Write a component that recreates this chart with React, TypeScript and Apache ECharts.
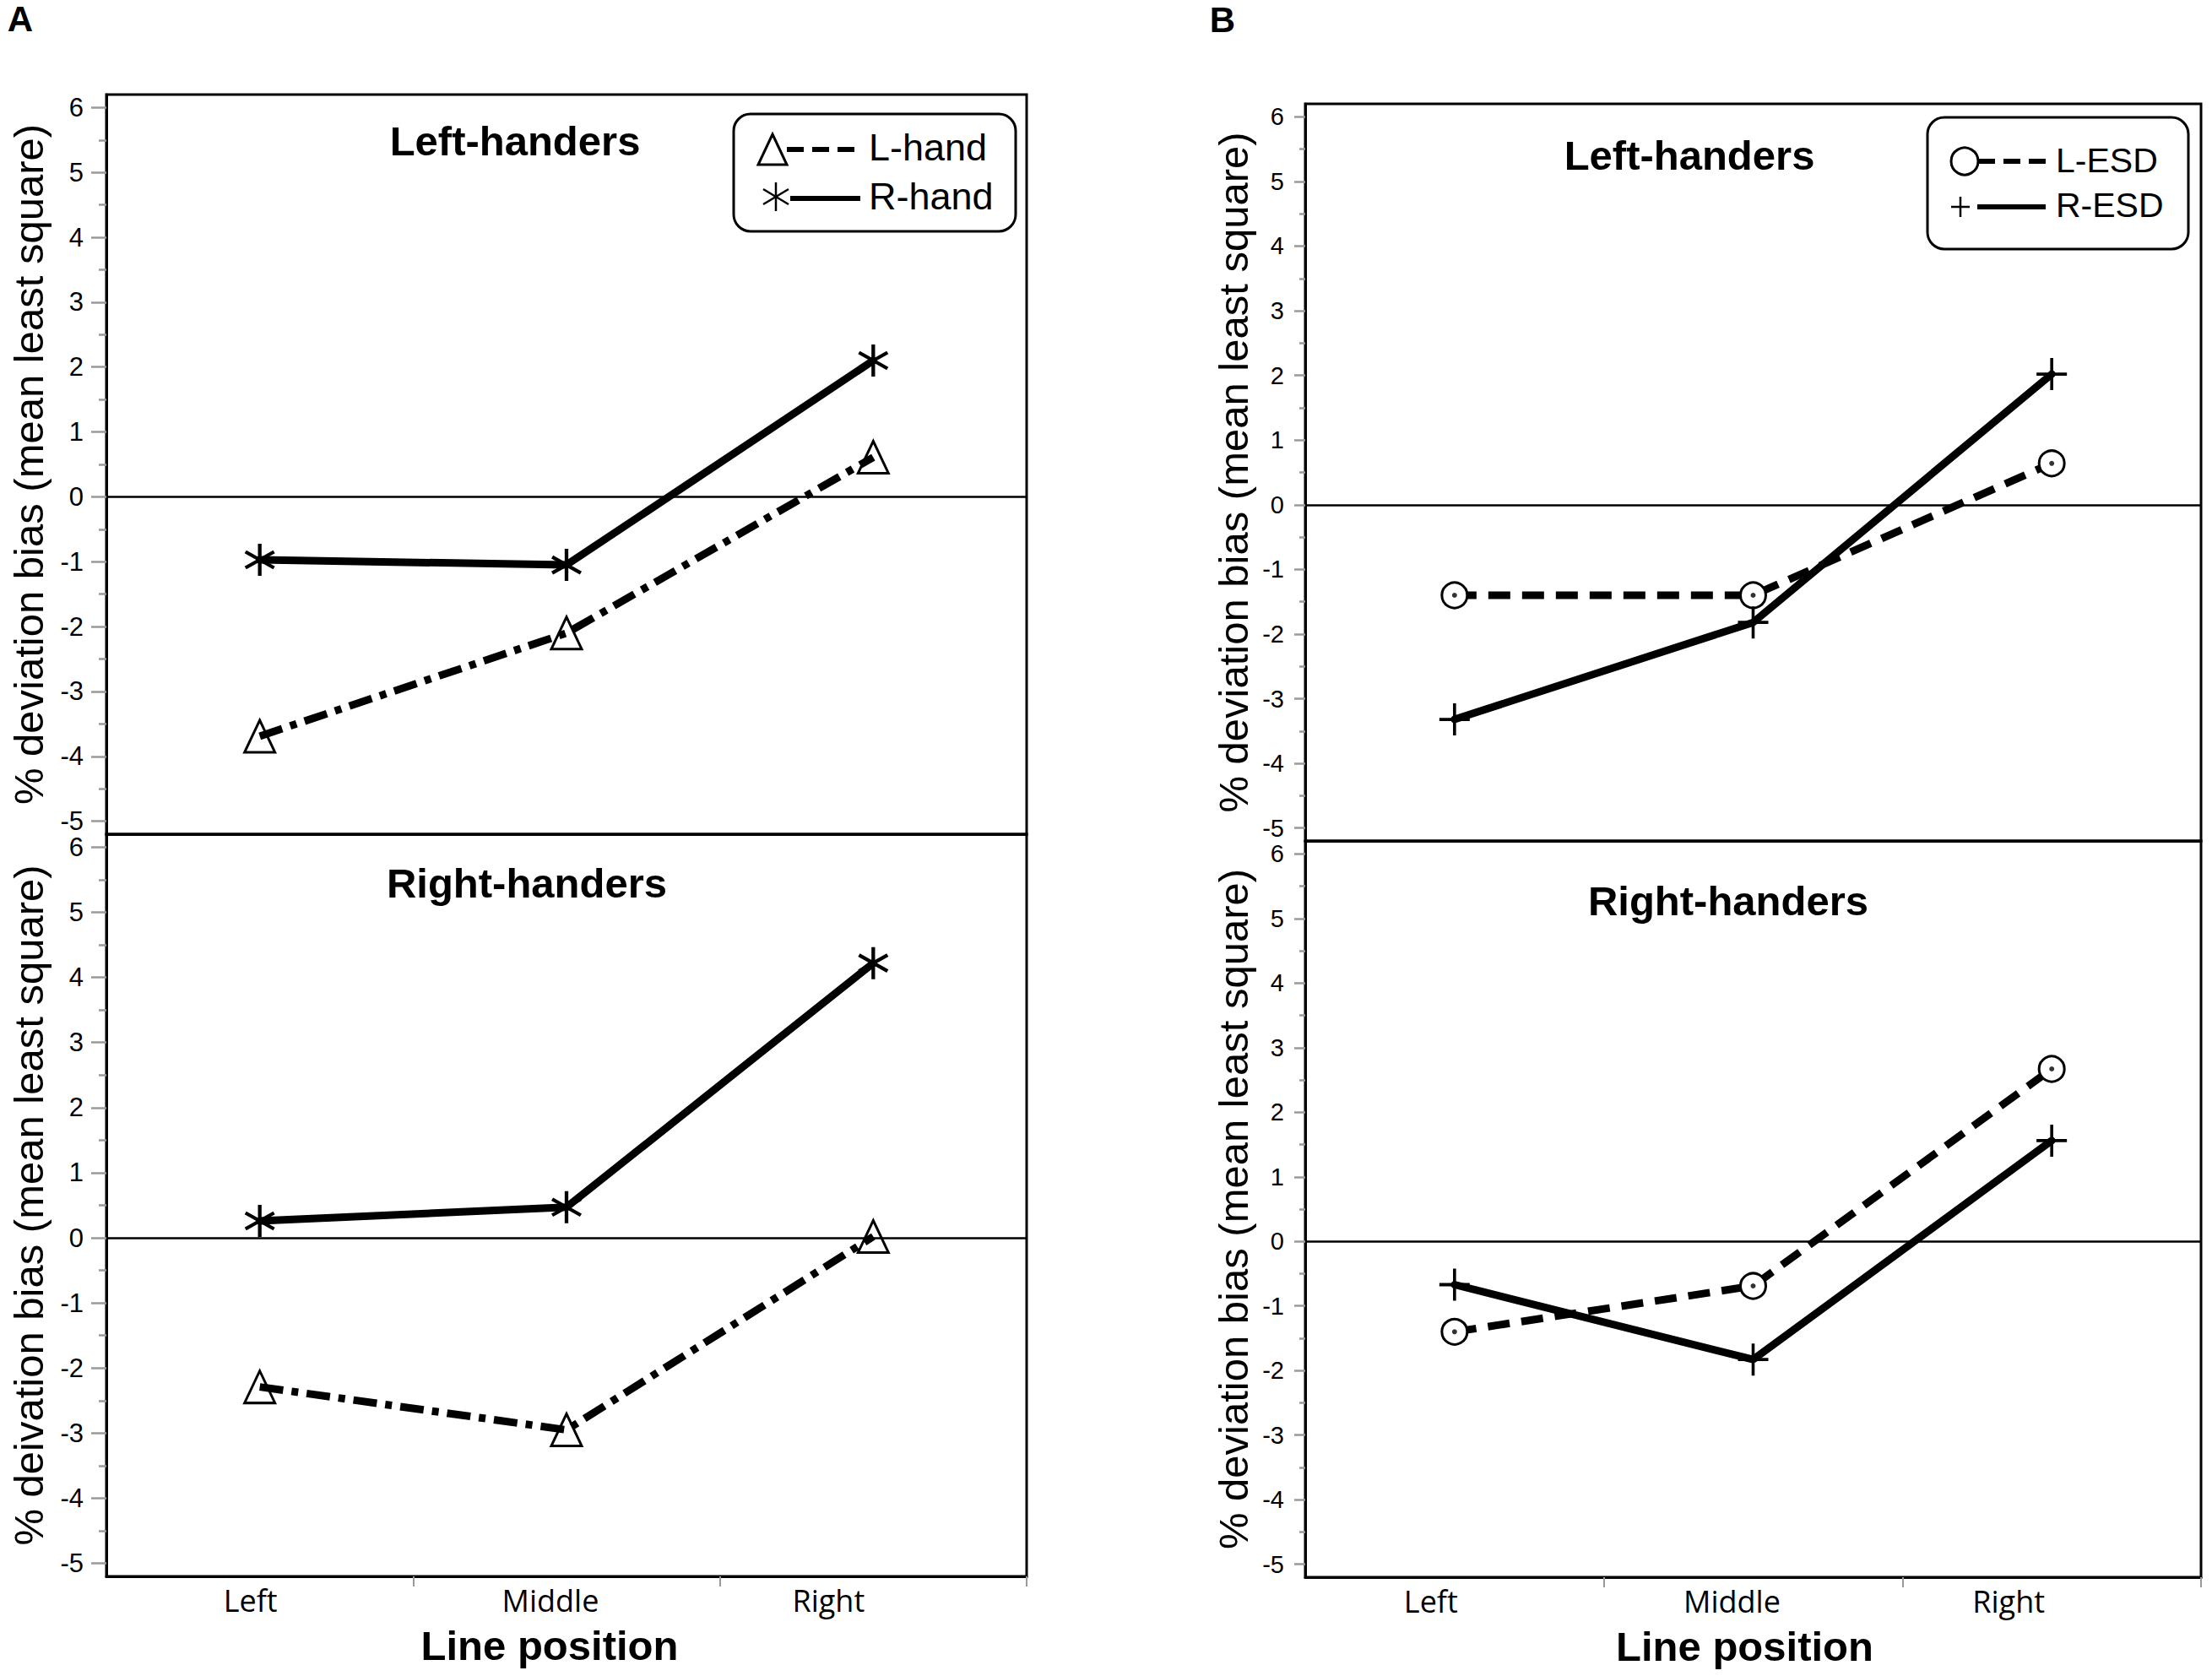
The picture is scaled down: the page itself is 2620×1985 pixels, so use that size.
import React, { useEffect, useRef } from "react";
import * as echarts from "echarts";

const CATEGORIES = ["Left", "Middle", "Right"];
const Y_MIN = -5.2;
const Y_MAX = 6.2;
const Y_MAJOR_TICKS = [-5, -4, -3, -2, -1, 0, 1, 2, 3, 4, 5, 6];
const Y_MINOR_TICKS = [-4.5, -3.5, -2.5, -1.5, -0.5, 0.5, 1.5, 2.5, 3.5, 4.5, 5.5];

// Panel A
const A_LEFT_HANDERS_L_HAND = [-3.69, -2.1, 0.61];
const A_LEFT_HANDERS_R_HAND = [-0.97, -1.05, 2.1];
const A_RIGHT_HANDERS_L_HAND = [-2.29, -2.95, 0.02];
const A_RIGHT_HANDERS_R_HAND = [0.26, 0.47, 4.22];
// Panel B
const B_LEFT_HANDERS_L_ESD = [-1.4, -1.4, 0.64];
const B_LEFT_HANDERS_R_ESD = [-3.32, -1.82, 2.02];
const B_RIGHT_HANDERS_L_ESD = [-1.4, -0.69, 2.67];
const B_RIGHT_HANDERS_R_ESD = [-0.67, -1.83, 1.56];

const Y_TITLE = "% deviation bias (mean least square)";
const Y_TITLE_TYPO = "% deivation bias (mean least square)";
const X_TITLE = "Line position";

const ASTERISK =
  "path://M-0.11,-1L0.11,-1L0.11,1L-0.11,1ZM-0.921,-0.405L-0.811,-0.595L0.921,0.405L0.811,0.595ZM0.811,-0.595L0.921,-0.405L-0.811,0.595L-0.921,0.405Z";
const PLUS =
  "path://M-0.1,-1L0.1,-1L0.1,-0.1L1,-0.1L1,0.1L0.1,0.1L0.1,1L-0.1,1L-0.1,0.1L-1,0.1L-1,-0.1L-0.1,-0.1Z";

function buildOption() {
  const grids = [
    { left: 126, top: 112, width: 1090, height: 876 },
    { left: 126, top: 988, width: 1090, height: 879 },
    { left: 1546, top: 123, width: 1061, height: 873 },
    { left: 1546, top: 996, width: 1061, height: 872 },
  ].map((g) => ({
    ...g,
    show: true,
    borderColor: "#000",
    borderWidth: 3,
    backgroundColor: "transparent",
    containLabel: false,
  }));

  const labelShifts = [null, [11, 19, 53], null, [28, 25, 51]];
  const xNamePad = [0, 40, 0, 20];

  const xAxis = [0, 1, 2, 3].map((gi) => {
    const bottom = gi === 1 || gi === 3;
    const shifts = labelShifts[gi] || [0, 0, 0];
    const rich: any = {};
    shifts.forEach((s, i) => {
      rich["c" + i] = {
        fontFamily: "Open Sans",
        fontSize: 36,
        color: "#000",
        padding: [0, 2 * s, 0, 0],
      };
    });
    return {
      type: "category",
      gridIndex: gi,
      data: CATEGORIES,
      boundaryGap: true,
      position: "bottom",
      axisLine: { show: true, onZero: false, lineStyle: { color: "#000", width: 3 } },
      axisTick: {
        show: bottom,
        interval: (i: number) => i > 0 && i < CATEGORIES.length,
        length: 12,
        lineStyle: { color: "#9a9a9a", width: 2 },
      },
      axisLabel: {
        show: bottom,
        interval: 0,
        margin: 10,
        formatter: (v: string, i: number) => `{c${i}|${v}}`,
        rich,
      },
      name: bottom ? X_TITLE : "",
      nameLocation: "middle",
      nameGap: 57,
      nameTextStyle: {
        fontFamily: "Liberation Sans",
        fontWeight: "bold",
        fontSize: 49,
        color: "#000",
        padding: [0, xNamePad[gi], 0, 0],
      },
      splitLine: { show: false },
    };
  });

  const titles = [Y_TITLE, Y_TITLE_TYPO, Y_TITLE, Y_TITLE];
  const nameGaps = [68, 68, 61, 61];
  const labelSizes = [31, 31, 29, 29];
  const labelMargins = [27, 27, 25, 25];
  const majorLen = [18, 18, 13, 13];
  const minorLen = [9, 9, 7, 7];

  const yAxis: any[] = [];
  [0, 1, 2, 3].forEach((gi) => {
    yAxis.push({
      type: "value",
      gridIndex: gi,
      min: Y_MIN,
      max: Y_MAX,
      splitNumber: 11,
      position: "left",
      name: titles[gi],
      nameLocation: "middle",
      nameGap: nameGaps[gi],
      nameRotate: 90,
      nameTextStyle: {
        fontFamily: "Liberation Sans",
        fontSize: 49,
        color: "#000",
      },
      axisLine: { show: true, onZero: false, lineStyle: { color: "#000", width: 3 } },
      axisTick: {
        show: true,
        customValues: Y_MAJOR_TICKS,
        length: majorLen[gi],
        lineStyle: { color: "#9a9a9a", width: 2.5 },
      },
      axisLabel: {
        show: true,
        customValues: Y_MAJOR_TICKS,
        margin: labelMargins[gi],
        fontFamily: "Liberation Sans",
        fontSize: labelSizes[gi],
        color: "#000",
      },
      splitLine: { show: false },
    });
  });
  [0, 1, 2, 3].forEach((gi) => {
    yAxis.push({
      type: "value",
      gridIndex: gi,
      min: Y_MIN,
      max: Y_MAX,
      splitNumber: 11,
      position: "left",
      axisLine: { show: false, onZero: false },
      axisTick: {
        show: true,
        customValues: Y_MINOR_TICKS,
        length: minorLen[gi],
        lineStyle: { color: "#9a9a9a", width: 2.5 },
      },
      axisLabel: { show: false },
      splitLine: { show: false },
    });
  });

  const zeroLine = {
    silent: true,
    symbol: "none",
    label: { show: false },
    lineStyle: { color: "#000", width: 2.5, type: "solid" },
    emphasis: { disabled: true },
    data: [{ yAxis: 0 }],
  };

  const base = (gi: number) => ({
    xAxisIndex: gi,
    yAxisIndex: gi,
    silent: true,
    emphasis: { disabled: true },
  });

  const solid = (gi: number, data: number[], symbol: string, size: any) => ({
    ...base(gi),
    type: "line",
    data,
    symbol,
    symbolSize: size,
    z: 4,
    lineStyle: { color: "#000", width: 9, type: "solid", cap: "round" },
    itemStyle: { color: "#000", borderWidth: 0 },
    markLine: zeroLine,
  });

  const triLine = (gi: number, data: number[]) => ({
    ...base(gi),
    type: "line",
    data,
    symbol: "triangle",
    symbolSize: [36, 38],
    z: 3,
    lineStyle: { color: "#000", width: 9, type: [28, 10, 8, 10] },
    itemStyle: { color: "rgba(0,0,0,0)", borderColor: "#000", borderWidth: 3 },
  });

  const circLine = (gi: number, data: number[]) => ({
    ...base(gi),
    type: "line",
    data,
    symbol: "circle",
    symbolSize: 30,
    z: 3,
    lineStyle: { color: "#000", width: 9, type: [26, 14] },
    itemStyle: { color: "#fff", borderColor: "#000", borderWidth: 3 },
  });

  const dots = (gi: number, data: number[]) => ({
    ...base(gi),
    type: "scatter",
    data,
    symbol: "circle",
    symbolSize: 6,
    z: 6,
    itemStyle: { color: "#000" },
  });

  const series: any[] = [
    triLine(0, A_LEFT_HANDERS_L_HAND),
    solid(0, A_LEFT_HANDERS_R_HAND, ASTERISK, [36, 38]),
    triLine(1, A_RIGHT_HANDERS_L_HAND),
    solid(1, A_RIGHT_HANDERS_R_HAND, ASTERISK, [36, 38]),
    circLine(2, B_LEFT_HANDERS_L_ESD),
    dots(2, B_LEFT_HANDERS_L_ESD),
    solid(2, B_LEFT_HANDERS_R_ESD, PLUS, [36, 38]),
    circLine(3, B_RIGHT_HANDERS_L_ESD),
    dots(3, B_RIGHT_HANDERS_L_ESD),
    solid(3, B_RIGHT_HANDERS_R_ESD, PLUS, [36, 38]),
  ];

  const txt = (
    text: string,
    x: number,
    y: number,
    size: number,
    bold: boolean,
    align = "center"
  ) => ({
    type: "text",
    x,
    y,
    z: 100,
    silent: true,
    style: {
      text,
      fill: "#000",
      fontSize: size,
      fontFamily: "Liberation Sans",
      fontWeight: bold ? "bold" : "normal",
      align,
      verticalAlign: "middle",
    },
  });

  const ln = (x1: number, y1: number, x2: number, y2: number, w: number, dash?: number[]) => ({
    type: "line",
    z: 100,
    silent: true,
    shape: { x1, y1, x2, y2 },
    style: { stroke: "#000", lineWidth: w, lineDash: dash || null },
  });

  const graphic: any[] = [
    txt("A", 24, 22, 42, true),
    txt("B", 1448, 23, 42, true),
    txt("Left-handers", 610, 167, 49, true),
    txt("Right-handers", 624, 1046, 49, true),
    txt("Left-handers", 2001, 184, 49, true),
    txt("Right-handers", 2047, 1067, 49, true),
    // Legend A
    {
      type: "rect",
      z: 99,
      silent: true,
      shape: { x: 869, y: 135, width: 334, height: 139, r: 20 },
      style: { fill: "#fff", stroke: "#000", lineWidth: 3 },
    },
    {
      type: "polygon",
      z: 100,
      silent: true,
      shape: { points: [[915, 159], [932, 195], [898, 195]] },
      style: { fill: "none", stroke: "#000", lineWidth: 3 },
    },
    ln(932, 177, 1017, 177, 6, [20, 10]),
    txt("L-hand", 1029, 174, 45, false, "left"),
    ln(919, 216, 919, 250, 2.5),
    ln(904, 224, 934, 242, 2.5),
    ln(904, 242, 934, 224, 2.5),
    ln(936, 235, 1019, 235, 6),
    txt("R-hand", 1029, 232, 45, false, "left"),
    // Legend B
    {
      type: "rect",
      z: 99,
      silent: true,
      shape: { x: 2283, y: 139, width: 309, height: 156, r: 20 },
      style: { fill: "#fff", stroke: "#000", lineWidth: 3 },
    },
    {
      type: "circle",
      z: 100,
      silent: true,
      shape: { cx: 2327, cy: 191, r: 16 },
      style: { fill: "#fff", stroke: "#000", lineWidth: 3 },
    },
    ln(2343, 191, 2423, 191, 6, [20, 10]),
    txt("L-ESD", 2435, 190, 41, false, "left"),
    ln(2311, 245, 2333, 245, 2.5),
    ln(2322, 233, 2322, 257, 2.5),
    ln(2342, 245, 2423, 245, 6),
    txt("R-ESD", 2435, 243, 41, false, "left"),
  ];

  return {
    animation: false,
    backgroundColor: "#fff",
    grid: grids,
    xAxis,
    yAxis,
    series,
    graphic,
  };
}

export default function App() {
  const ref = useRef<HTMLDivElement>(null);
  useEffect(() => {
    document.body.style.margin = "0";
    if (!ref.current) return;
    const chart = echarts.init(ref.current, null, { renderer: "svg" });
    chart.setOption(buildOption() as any);
    return () => chart.dispose();
  }, []);
  return <div ref={ref} style={{ width: 2620, height: 1985, background: "#fff" }} />;
}
